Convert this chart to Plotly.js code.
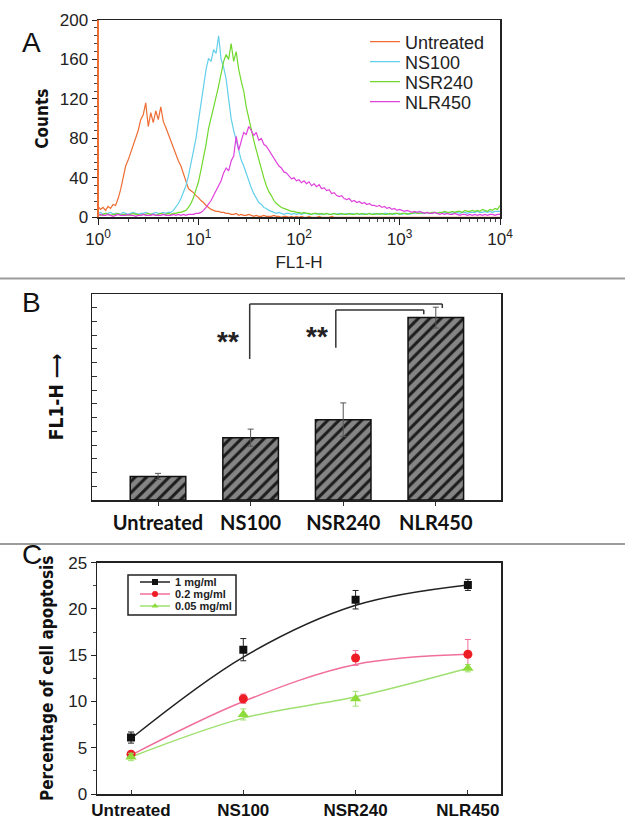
<!DOCTYPE html>
<html>
<head>
<meta charset="utf-8">
<script src="https://cdn.plot.ly/plotly-3.0.1.min.js"></script>
<style>html,body{margin:0;padding:0;background:#fff;}#chart{width:625px;height:826px;}</style>
</head>
<body>
<div id="chart"></div>
<script>
// ---------- Panel A: flow cytometry histograms ----------
const fl1 = [
 1, 1.059, 1.122, 1.189, 1.259, 1.334, 1.413, 1.496, 1.585, 1.679, 1.778, 1.884, 1.995, 2.113, 2.239, 2.371, 2.512, 2.661, 2.818, 2.985,
 3.162, 3.350, 3.548, 3.758, 3.981, 4.217, 4.467, 4.732, 5.012, 5.309, 5.623, 5.957, 6.310, 6.683, 7.079, 7.499, 7.943, 8.414, 8.913, 9.441,
 10, 10.59, 11.22, 11.89, 12.59, 13.34, 14.13, 14.96, 15.85, 16.79, 17.78, 18.84, 19.95, 21.13, 22.39, 23.71, 25.12, 26.61, 28.18, 29.85,
 31.62, 33.50, 35.48, 37.58, 39.81, 42.17, 44.67, 47.32, 50.12, 53.09, 56.23, 59.57, 63.10, 66.83, 70.79, 74.99, 79.43, 84.14, 89.13, 94.41,
 100, 105.9, 112.2, 118.9, 125.9, 133.4, 141.3, 149.6, 158.5, 167.9, 177.8, 188.4, 199.5, 211.3, 223.9, 237.1, 251.2, 266.1, 281.8, 298.5,
 316.2, 335.0, 354.8, 375.8, 398.1, 421.7, 446.7, 473.2, 501.2, 530.9, 562.3, 595.7, 631.0, 668.3, 707.9, 749.9, 794.3, 841.4, 891.3, 944.1,
 1000, 1059, 1122, 1189, 1259, 1334, 1413, 1496, 1585, 1679, 1778, 1884, 1995, 2113, 2239, 2371, 2512, 2661, 2818, 2985,
 3162, 3350, 3548, 3758, 3981, 4217, 4467, 4732, 5012, 5309, 5623, 5957, 6310, 6683, 7079, 7499, 7943, 8414, 8913, 9441,
 10000
];
const countsUntreated = [
 11, 8, 10, 7, 11, 9, 13, 12, 19, 28,
 40, 52, 58, 66, 72, 81, 88, 99, 104, 116,
 92, 106, 96, 108, 99, 112, 97, 91, 84, 77,
 69, 62, 57, 52, 44, 36, 29, 27, 25, 22,
 20, 17, 15, 12, 10, 8, 7, 6, 6, 5,
 5, 4, 4, 3, 3, 4, 2, 3, 2, 2,
 3, 2, 1, 2, 1, 1, 2, 1, 1, 1,
 2, 1, 1, 0, 1, 1, 0, 1, 0, 1,
 0, 1, 0, 0, 1, 0, 0, 0, 1, 0,
 0, 0, 0, 1, 0, 0, 0, 0, 0, 0,
 0, 0, 0, 0, 0, 0, 0, 0, 0, 0,
 0, 0, 0, 0, 0, 0, 0, 0, 0, 0,
 0, 0, 0, 0, 0, 0, 0, 0, 0, 0,
 0, 0, 0, 0, 0, 0, 0, 0, 0, 0,
 0, 0, 0, 0, 0, 0, 0, 0, 0, 0,
 0, 0, 0, 0, 0, 0, 0, 0, 0, 0,
 0
];
const countsNS100 = [
 4, 5, 3, 4, 4, 5, 3, 4, 4, 3,
 5, 4, 3, 4, 5, 4, 3, 4, 4, 5,
 4, 3, 4, 5, 4, 4, 5, 4, 5, 5,
 7, 10, 14, 19, 25, 32, 42, 55, 66, 80,
 98, 117, 132, 150, 161, 158, 170, 166, 184, 160,
 152, 140, 120, 100, 88, 78, 70, 58, 52, 44,
 37, 30, 24, 19, 15, 13, 10, 9, 7, 6,
 5, 4, 5, 4, 3, 4, 4, 3, 4, 3,
 4, 3, 4, 4, 3, 3, 4, 3, 4, 3,
 3, 4, 3, 3, 4, 3, 4, 3, 3, 4,
 3, 4, 3, 4, 3, 3, 4, 3, 4, 3,
 4, 3, 4, 3, 4, 4, 3, 4, 3, 4,
 4, 3, 4, 4, 3, 4, 4, 5, 4, 4,
 4, 5, 4, 4, 5, 4, 5, 4, 5, 4,
 5, 4, 5, 5, 4, 5, 5, 4, 5, 5,
 5, 6, 5, 5, 6, 5, 6, 5, 6, 6,
 6
];
const countsNSR240 = [
 3, 2, 3, 4, 3, 2, 3, 3, 4, 2,
 3, 3, 2, 3, 4, 3, 3, 2, 3, 3,
 4, 3, 3, 2, 3, 4, 3, 3, 4, 3,
 4, 4, 5, 5, 6, 7, 10, 14, 20, 27,
 36, 48, 60, 74, 90, 100, 112, 122, 133, 147,
 158, 165, 160, 176, 158, 168, 150, 138, 128, 112,
 100, 88, 78, 68, 58, 48, 40, 32, 26, 22,
 17, 14, 12, 10, 9, 8, 7, 6, 6, 5,
 5, 4, 5, 4, 4, 3, 4, 4, 3, 4,
 3, 4, 3, 3, 4, 3, 3, 4, 3, 3,
 4, 3, 3, 4, 3, 4, 3, 3, 4, 3,
 3, 4, 3, 4, 3, 3, 4, 3, 4, 4,
 3, 4, 4, 3, 4, 4, 5, 4, 4, 5,
 4, 5, 4, 5, 5, 4, 5, 5, 6, 5,
 5, 6, 5, 6, 6, 5, 7, 6, 6, 7,
 6, 7, 6, 8, 7, 6, 8, 7, 9, 8,
 12
];
const countsNLR450 = [
 2, 3, 2, 2, 3, 2, 1, 2, 3, 2,
 2, 2, 3, 2, 2, 1, 2, 2, 3, 2,
 2, 2, 3, 2, 2, 2, 3, 2, 2, 2,
 3, 2, 3, 2, 3, 2, 3, 3, 3, 4,
 4, 5, 7, 10, 13, 17, 22, 27, 33, 37,
 45, 50, 47, 57, 62, 82, 68, 78, 86, 84,
 92, 88, 83, 86, 78, 80, 74, 72, 68, 65,
 60, 56, 52, 50, 46, 45, 42, 39, 40, 37,
 38, 35, 37, 34, 36, 32, 34, 31, 33, 29,
 30, 27, 28, 24, 25, 22, 21, 22, 19, 18,
 19, 16, 17, 15, 16, 14, 15, 13, 14, 12,
 12, 11, 12, 10, 11, 9, 10, 8, 9, 7,
 8, 7, 6, 7, 6, 5, 6, 5, 6, 5,
 4, 5, 4, 4, 5, 4, 3, 4, 3, 4,
 3, 3, 4, 3, 2, 3, 3, 2, 3, 2,
 3, 2, 3, 2, 3, 2, 3, 3, 2, 3,
 3
];
const histNames = ['Untreated', 'NS100', 'NSR240', 'NLR450'];
const xTickVals = [1, 10, 100, 1000, 10000];
const xTickText = ['10<sup>0</sup>', '10<sup>1</sup>', '10<sup>2</sup>', '10<sup>3</sup>', '10<sup>4</sup>'];

// ---------- Panel B: mean FL1-H ----------
const groups = ['Untreated', 'NS100', 'NSR240', 'NLR450'];
const fl1Mean = [1.72, 4.54, 5.85, 13.28];
const fl1Err = [0.22, 0.62, 1.22, 0.76];

// ---------- Panel C: apoptosis ----------
const doseNames = ['1 mg/ml', '0.2 mg/ml', '0.05 mg/ml'];
const apop1 = [6.1, 15.6, 21.0, 22.6];
const apop1Err = [0.6, 1.2, 1.0, 0.6];
const apop02 = [4.3, 10.3, 14.7, 15.1];
const apop02Err = [0.3, 0.5, 0.8, 1.6];
const apop005 = [4.0, 8.6, 10.3, 13.6];
const apop005Err = [0.4, 0.6, 0.8, 0.4];
const fit1 = [6.0, 14.8, 20.4, 22.6];
const fit02 = [4.2, 10.0, 14.0, 15.1];
const fit005 = [4.0, 8.2, 10.5, 13.6];

// ---------- styles ----------
const ARIAL = '"Liberation Sans", Arial, sans-serif';
const NARROW = '"DejaVu Sans Condensed", "Liberation Sans", sans-serif';
const LATO = 'Lato, "Liberation Sans", sans-serif';
const histColors = ['#ef6d33', '#63cfea', '#70d82c', '#e040dc'];
const histLegends = ['legend', 'legend2', 'legend3', 'legend4'];
const doseColors = ['#111111', '#ee1c25', '#8edc3c'];
const doseLines = ['#222222', '#f0709a', '#9fe070'];
const doseSymbols = ['square', 'circle', 'triangle-up'];
const doseSizes = [8, 9, 10];
const doseLegends = ['legend5', 'legend6', 'legend7'];

const W = 625, H = 826;
const px = v => v / W;
const py = v => 1 - v / H;

const histSeries = [countsUntreated, countsNS100, countsNSR240, countsNLR450];
const traces = [];
histSeries.forEach((ys, i) => {
  traces.push({
    type: 'scatter', mode: 'lines', x: fl1, y: ys, name: histNames[i],
    xaxis: 'x', yaxis: 'y', legend: histLegends[i],
    line: {color: histColors[i], width: 1.2}
  });
});

traces.push({
  type: 'bar', x: groups, y: fl1Mean, xaxis: 'x2', yaxis: 'y2', width: 0.6, showlegend: false,
  marker: {color: '#7d7d7d', line: {color: '#111', width: 1.5},
    pattern: {shape: '/', fillmode: 'replace', bgcolor: '#858585', fgcolor: '#1c1c1c', size: 8, solidity: 0.38}},
  error_y: {type: 'data', array: fl1Err, color: '#555', thickness: 1, width: 3}
});

const apopMeans = [apop1, apop02, apop005];
const apopErrs = [apop1Err, apop02Err, apop005Err];
const apopFits = [fit1, fit02, fit005];
apopFits.forEach((f, i) => {
  traces.push({
    type: 'scatter', mode: 'lines', x: groups, y: f, xaxis: 'x3', yaxis: 'y3', showlegend: false,
    line: {color: doseLines[i], width: 1.5, shape: 'spline', smoothing: 1}
  });
});
apopMeans.forEach((m, i) => {
  traces.push({
    type: 'scatter', mode: 'markers', x: groups, y: m, xaxis: 'x3', yaxis: 'y3', showlegend: false,
    marker: {color: doseColors[i], symbol: doseSymbols[i], size: doseSizes[i]},
    error_y: {type: 'data', array: apopErrs[i], color: i === 0 ? '#222' : doseLines[i], thickness: 1, width: 3}
  });
});
// legend keys for panel C (line + marker)
doseNames.forEach((n, i) => {
  traces.push({
    type: 'scatter', mode: 'lines+markers', x: [null], y: [null], xaxis: 'x3', yaxis: 'y3',
    name: n, legend: doseLegends[i],
    line: {color: doseLines[i], width: 1.5},
    marker: {color: doseColors[i], symbol: doseSymbols[i], size: 6}
  });
});

const legendCommon = (x, ycen, size, family, weight) => ({
  x: x, y: ycen, xanchor: 'left', yanchor: 'middle', bgcolor: 'rgba(0,0,0,0)', borderwidth: 0,
  font: {family: family, size: size, color: '#222', weight: weight}, itemclick: false
});

const layout = {
  width: W, height: H, margin: {l: 0, r: 0, t: 0, b: 0},
  paper_bgcolor: '#fff', plot_bgcolor: '#fff', showlegend: true,
  font: {family: ARIAL, color: '#222'},
  // Panel A axes
  xaxis: {
    type: 'log', domain: [px(98), px(500)], range: [0, 4], anchor: 'y',
    tickvals: xTickVals, ticktext: xTickText, ticks: 'outside', ticklen: 6, tickcolor: '#222',
    minor: {dtick: 'D1', ticks: 'outside', ticklen: 3, tickcolor: '#444'},
    showline: true, linecolor: '#222', linewidth: 1.5, mirror: true, showgrid: false, zeroline: false,
    tickfont: {family: ARIAL, size: 17, color: '#222'},
    title: {text: 'FL1-H', font: {family: ARIAL, size: 17, color: '#222'}, standoff: 8}
  },
  yaxis: {
    domain: [py(217.3), py(20)], range: [0, 200], anchor: 'x', dtick: 40,
    ticks: 'outside', ticklen: 5, tickcolor: '#222',
    minor: {dtick: 8, ticks: 'outside', ticklen: 3, tickcolor: '#444'},
    showline: true, linecolor: '#222', linewidth: 1.5, mirror: true, showgrid: false, zeroline: false,
    tickfont: {family: ARIAL, size: 17, color: '#222'},
    title: {text: 'Counts', font: {family: NARROW, size: 17, color: '#111', weight: 'bold'}, standoff: 7}
  },
  // Panel B axes
  xaxis2: {
    domain: [px(92), px(501)], range: [-0.713, 3.704], anchor: 'y2', type: 'category',
    ticks: 'outside', ticklen: 4, tickcolor: '#333',
    showline: true, linecolor: '#222', linewidth: 1.5, mirror: true, showgrid: false, zeroline: false,
    tickfont: {family: LATO, size: 20, color: '#111', weight: 'bold'}
  },
  yaxis2: {
    domain: [py(500), py(294)], range: [0, 15], anchor: 'x2', dtick: 1,
    ticks: 'inside', ticklen: 5, tickcolor: '#333', showticklabels: false,
    showline: true, linecolor: '#222', linewidth: 1.5, mirror: true, showgrid: false, zeroline: false,
    title: {text: 'FL1-H ⟶', font: {family: NARROW, size: 19, color: '#111', weight: 'bold'}, standoff: 22}
  },
  // Panel C axes
  xaxis3: {
    domain: [px(97), px(501)], range: [-0.303, 3.295], anchor: 'y3', type: 'category',
    ticks: 'inside', ticklen: 4, tickcolor: '#333',
    showline: true, linecolor: '#222', linewidth: 1.5, mirror: true, showgrid: false, zeroline: false,
    tickfont: {family: ARIAL, size: 17, color: '#111', weight: 'bold'}
  },
  yaxis3: {
    domain: [py(794), py(562.7)], range: [0, 25], anchor: 'x3', dtick: 5,
    ticks: 'outside', ticklen: 5, tickcolor: '#222',
    minor: {dtick: 2.5, ticks: 'outside', ticklen: 3, tickcolor: '#444'},
    showline: true, linecolor: '#222', linewidth: 1.5, mirror: true, showgrid: false, zeroline: false,
    tickfont: {family: ARIAL, size: 17, color: '#222'},
    title: {text: 'Percentage of cell apoptosis', font: {family: NARROW, size: 17, color: '#111', weight: 'bold'}, standoff: 10}
  },
  legend: legendCommon(px(365), py(42), 18, ARIAL, 'normal'),
  legend2: legendCommon(px(365), py(62), 18, ARIAL, 'normal'),
  legend3: legendCommon(px(365), py(82), 18, ARIAL, 'normal'),
  legend4: legendCommon(px(365), py(102), 18, ARIAL, 'normal'),
  legend5: legendCommon(px(135), py(582), 11, ARIAL, 'bold'),
  legend6: legendCommon(px(135), py(594), 11, ARIAL, 'bold'),
  legend7: legendCommon(px(135), py(606), 11, ARIAL, 'bold'),
  shapes: [
    // panel separators
    {type: 'line', xref: 'paper', yref: 'paper', x0: 0, x1: 1, y0: py(278.5), y1: py(278.5), line: {color: '#9c9c9c', width: 2}},
    {type: 'line', xref: 'paper', yref: 'paper', x0: 0, x1: 1, y0: py(544), y1: py(544), line: {color: '#9c9c9c', width: 2}},
    // orange channel-0 spike along left edge of panel A
    {type: 'line', xref: 'paper', yref: 'paper', x0: px(98), x1: px(98), y0: py(217.3), y1: py(20), line: {color: histColors[0], width: 2}},
    // significance brackets panel B
    {type: 'line', xref: 'x2', yref: 'y2', x0: 0.99, x1: 0.99, y0: 10.27, y1: 14.27, line: {color: '#333', width: 1.5}},
    {type: 'line', xref: 'x2', yref: 'y2', x0: 0.99, x1: 3.07, y0: 14.27, y1: 14.27, line: {color: '#333', width: 1.5}},
    {type: 'line', xref: 'x2', yref: 'y2', x0: 3.07, x1: 3.07, y0: 14.27, y1: 13.98, line: {color: '#333', width: 1.5}},
    {type: 'line', xref: 'x2', yref: 'y2', x0: 1.92, x1: 1.92, y0: 11.09, y1: 13.83, line: {color: '#333', width: 1.5}},
    {type: 'line', xref: 'x2', yref: 'y2', x0: 1.92, x1: 2.87, y0: 13.83, y1: 13.83, line: {color: '#333', width: 1.5}},
    {type: 'line', xref: 'x2', yref: 'y2', x0: 2.87, x1: 2.87, y0: 13.83, y1: 13.52, line: {color: '#333', width: 1.5}},
    // legend frame panel C
    {type: 'rect', xref: 'paper', yref: 'paper', x0: px(128), x1: px(236), y0: py(615), y1: py(575), line: {color: '#222', width: 1.5}, fillcolor: 'rgba(0,0,0,0)'}
  ],
  annotations: [
    {text: 'A', xref: 'paper', yref: 'paper', x: px(20), y: py(25), showarrow: false, font: {family: ARIAL, size: 28, color: '#111'}},
    {text: 'B', xref: 'paper', yref: 'paper', x: px(20), y: py(303), showarrow: false, font: {family: ARIAL, size: 28, color: '#111'}},
    {text: 'C', xref: 'paper', yref: 'paper', x: px(20), y: py(572), showarrow: false, font: {family: ARIAL, size: 28, color: '#111'}},
    {text: '**', xref: 'x2', yref: 'y2', x: 0.76, y: 11.94, showarrow: false, yshift: -5, font: {family: ARIAL, size: 28, color: '#222', weight: 'bold'}},
    {text: '**', xref: 'x2', yref: 'y2', x: 1.72, y: 12.26, showarrow: false, yshift: -5, font: {family: ARIAL, size: 28, color: '#222', weight: 'bold'}}
  ]
};

Plotly.newPlot('chart', traces, layout, {displayModeBar: false, staticPlot: true});
</script>
</body>
</html>
